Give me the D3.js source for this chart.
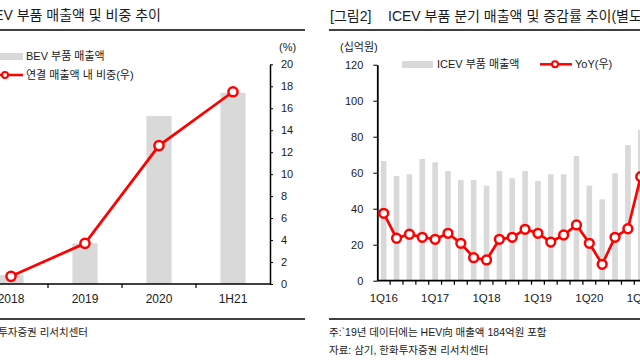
<!DOCTYPE html>
<html>
<head>
<meta charset="utf-8">
<script src="https://cdn.jsdelivr.net/npm/d3@7"></script>
<style>
  body { margin: 0; background: #fff; }
  svg { display: block; font-family: "Liberation Sans", "Noto Sans CJK KR", sans-serif; }
</style>
</head>
<body>
<div id="app"></div>
<script>
// left chart: BEV parts sales (십억원, left axis not shown) and share of consolidated sales (%)
const bevYears = ["2018", "2019", "2020", "1H21"];
const bevSales = [1.6, 7.4, 30.6, 34.8];
const bevShare = [0.7, 3.7, 12.6, 17.5];
const shareTicks = [0, 2, 4, 6, 8, 10, 12, 14, 16, 18, 20];

// right chart: ICEV parts quarterly sales (십억원) and YoY (%, right axis not shown)
const quarters = [
  "1Q16", "2Q16", "3Q16", "4Q16",
  "1Q17", "2Q17", "3Q17", "4Q17",
  "1Q18", "2Q18", "3Q18", "4Q18",
  "1Q19", "2Q19", "3Q19", "4Q19",
  "1Q20", "2Q20", "3Q20", "4Q20",
  "1Q21"
];
const icevSales = [
  66.5, 58.2, 59.1, 67.6,
  65.8, 60.9, 55.9, 55.9,
  52.8, 60.9, 56.9, 60.9,
  55.4, 59.1, 59.1, 69.3,
  52.8, 45.2, 59.7, 75.4,
  83.7
];
const icevYoy = [
  22.4, -0.7, 3.0, 0.2,
  -1.7, 3.9, -5.4, -18.7,
  -20.8, -1.7, 0.2, 7.6,
  3.9, -4.2, 2.3, 11.6,
  -5.4, -24.8, 0.2, 8.1,
  56.3
];
const salesTicks = [0, 20, 40, 60, 80, 100, 120];
const quarterLabels = ["1Q16", "1Q17", "1Q18", "1Q19", "1Q20", "1Q21"];

const RED = "#ff0000";
const GREY = "#d9d9d9";
const INK = "#1a1a1a";

const svg = d3.select("#app")
  .append("svg")
  .attr("width", 640)
  .attr("height", 360);

// ---------- left chart ----------
const left = svg.append("g");

left.append("text")
  .attr("x", 161).attr("y", 20)
  .attr("text-anchor", "end")
  .attr("font-size", 14)
  .attr("fill", INK)
  .text("[그림1] BEV 부품 매출액 및 비중 추이");

left.append("line")
  .attr("x1", 0).attr("x2", 305).attr("y1", 30).attr("y2", 30)
  .attr("stroke", "#000").attr("stroke-width", 1.3);

const xL = d3.scaleBand().domain(bevYears).range([-26, 270]);
const ySalesL = d3.scaleLinear().domain([0, 40]).range([284, 64.3]);
const yShare = d3.scaleLinear().domain([0, 20]).range([284, 64.3]);

left.selectAll(".bar")
  .data(bevYears)
  .enter()
  .append("rect")
  .attr("class", "bar")
  .attr("x", (d) => xL(d) + xL.bandwidth() * 0.33)
  .attr("width", xL.bandwidth() * 0.34)
  .attr("y", (d, i) => ySalesL(bevSales[i]))
  .attr("height", (d, i) => ySalesL(0) - ySalesL(bevSales[i]))
  .attr("fill", GREY);

// right axis (%)
const shareAxis = left.append("g")
  .attr("transform", "translate(270,0)")
  .call(d3.axisRight(yShare).tickValues(shareTicks).tickSize(3).tickPadding(8).tickSizeOuter(0));
shareAxis.select(".domain").attr("stroke", "#000").attr("stroke-width", 1.5);
shareAxis.selectAll("text").attr("font-size", 11).attr("fill", INK).style("font-family", "inherit");

// x axis line with ticks between categories
left.append("line")
  .attr("x1", 0).attr("x2", 270)
  .attr("y1", yShare(0)).attr("y2", yShare(0))
  .attr("stroke", "#000").attr("stroke-width", 1.5);
left.selectAll(".xtick")
  .data(d3.range(1, bevYears.length))
  .enter()
  .append("line")
  .attr("x1", (i) => xL.range()[0] + i * xL.step())
  .attr("x2", (i) => xL.range()[0] + i * xL.step())
  .attr("y1", yShare(0)).attr("y2", yShare(0) + 4)
  .attr("stroke", "#000").attr("stroke-width", 1.2);
left.selectAll(".xlab")
  .data(bevYears)
  .enter()
  .append("text")
  .attr("x", (d) => xL(d) + xL.bandwidth() / 2)
  .attr("y", 303)
  .attr("text-anchor", "middle")
  .attr("font-size", 12)
  .attr("fill", INK)
  .text((d) => d);

const shareLine = d3.line()
  .x((d, i) => xL(bevYears[i]) + xL.bandwidth() / 2)
  .y((d) => yShare(d));
left.append("path")
  .datum(bevShare)
  .attr("d", shareLine)
  .attr("fill", "none")
  .attr("stroke", RED)
  .attr("stroke-width", 2.7);
left.selectAll(".dot")
  .data(bevShare)
  .enter()
  .append("circle")
  .attr("cx", (d, i) => xL(bevYears[i]) + xL.bandwidth() / 2)
  .attr("cy", (d) => yShare(d))
  .attr("r", 4.6)
  .attr("fill", "#fff")
  .attr("stroke", RED)
  .attr("stroke-width", 2.5);

left.append("text")
  .attr("x", 279).attr("y", 51)
  .attr("font-size", 11).attr("fill", INK)
  .text("(%)");

// legend
left.append("rect")
  .attr("x", -10).attr("y", 53).attr("width", 33).attr("height", 7)
  .attr("fill", GREY);
left.append("text")
  .attr("x", 26).attr("y", 60)
  .attr("font-size", 11).attr("fill", INK)
  .text("BEV 부품 매출액");
left.append("line")
  .attr("x1", -10).attr("x2", 23).attr("y1", 75).attr("y2", 75)
  .attr("stroke", RED).attr("stroke-width", 2.5);
left.append("circle")
  .attr("cx", 5).attr("cy", 75).attr("r", 3)
  .attr("fill", "#fff").attr("stroke", RED).attr("stroke-width", 2);
left.append("text")
  .attr("x", 26).attr("y", 79)
  .attr("font-size", 11).attr("fill", INK)
  .text("연결 매출액  내 비중(우)");

left.append("line")
  .attr("x1", 0).attr("x2", 305).attr("y1", 319).attr("y2", 319)
  .attr("stroke", "#000").attr("stroke-width", 1.3);
left.append("text")
  .attr("x", 88).attr("y", 335.5)
  .attr("text-anchor", "end")
  .attr("font-size", 10.5).attr("fill", INK)
  .text("자료: 한화투자증권 리서치센터");

// ---------- right chart ----------
const right = svg.append("g");

right.append("text")
  .attr("x", 330).attr("y", 21)
  .attr("font-size", 14).attr("fill", INK)
  .text("[그림2]");
right.append("text")
  .attr("x", 388).attr("y", 21)
  .attr("font-size", 14).attr("fill", INK)
  .text("ICEV 부품 분기 매출액 및 증감률 추이(별도 기준)");

right.append("line")
  .attr("x1", 329).attr("x2", 640).attr("y1", 30).attr("y2", 30)
  .attr("stroke", "#000").attr("stroke-width", 1.3);

const xR = d3.scaleBand().domain(quarters).range([377.3, 377.3 + quarters.length * 12.85]);
const ySales = d3.scaleLinear().domain([0, 120]).range([280.7, 64.7]);
const yYoy = d3.scaleLinear().domain([-40, 160]).range([280.7, 64.7]);

right.selectAll(".bar")
  .data(quarters)
  .enter()
  .append("rect")
  .attr("class", "bar")
  .attr("x", (d) => xR(d) + xR.bandwidth() / 2 - 2.8)
  .attr("width", 5.6)
  .attr("y", (d, i) => ySales(icevSales[i]))
  .attr("height", (d, i) => ySales(0) - ySales(icevSales[i]))
  .attr("fill", GREY);

const salesAxis = right.append("g")
  .attr("transform", "translate(377.3,0)")
  .call(d3.axisLeft(ySales).tickValues(salesTicks).tickSize(4).tickPadding(10).tickSizeOuter(0));
salesAxis.select(".domain").attr("stroke", "#000").attr("stroke-width", 1.8);
salesAxis.selectAll("text").attr("font-size", 11).attr("fill", INK).style("font-family", "inherit");

right.append("line")
  .attr("x1", 377.3).attr("x2", 640)
  .attr("y1", ySales(0)).attr("y2", ySales(0))
  .attr("stroke", "#000").attr("stroke-width", 1.8);
right.selectAll(".xtick")
  .data(d3.range(1, quarters.length + 1))
  .enter()
  .append("line")
  .attr("x1", (i) => xR.range()[0] + i * xR.step())
  .attr("x2", (i) => xR.range()[0] + i * xR.step())
  .attr("y1", ySales(0)).attr("y2", ySales(0) + 4)
  .attr("stroke", "#000").attr("stroke-width", 1.2);
right.selectAll(".xlab")
  .data(quarterLabels)
  .enter()
  .append("text")
  .attr("x", (d) => xR(d) + xR.bandwidth() / 2)
  .attr("y", 301.5)
  .attr("text-anchor", "middle")
  .attr("font-size", 11.5)
  .attr("fill", INK)
  .text((d) => d);

const yoyLine = d3.line()
  .x((d, i) => xR(quarters[i]) + xR.bandwidth() / 2)
  .y((d) => yYoy(d));
right.append("path")
  .datum(icevYoy)
  .attr("d", yoyLine)
  .attr("fill", "none")
  .attr("stroke", RED)
  .attr("stroke-width", 2.7);
right.selectAll(".dot")
  .data(icevYoy)
  .enter()
  .append("circle")
  .attr("cx", (d, i) => xR(quarters[i]) + xR.bandwidth() / 2)
  .attr("cy", (d) => yYoy(d))
  .attr("r", 4.4)
  .attr("fill", "#fff")
  .attr("stroke", RED)
  .attr("stroke-width", 2.5);

right.append("text")
  .attr("x", 340).attr("y", 50.5)
  .attr("font-size", 11).attr("fill", INK)
  .text("(십억원)");

// legend
right.append("rect")
  .attr("x", 402).attr("y", 61).attr("width", 31).attr("height", 7)
  .attr("fill", GREY);
right.append("text")
  .attr("x", 437).attr("y", 68)
  .attr("font-size", 11).attr("fill", INK)
  .text("ICEV 부품 매출액");
right.append("line")
  .attr("x1", 540).attr("x2", 572).attr("y1", 64.3).attr("y2", 64.3)
  .attr("stroke", RED).attr("stroke-width", 2.5);
right.append("circle")
  .attr("cx", 555).attr("cy", 64.3).attr("r", 3)
  .attr("fill", "#fff").attr("stroke", RED).attr("stroke-width", 2);
right.append("text")
  .attr("x", 575).attr("y", 68)
  .attr("font-size", 11).attr("fill", INK)
  .text("YoY(우)");

right.append("line")
  .attr("x1", 329).attr("x2", 640).attr("y1", 319).attr("y2", 319)
  .attr("stroke", "#000").attr("stroke-width", 1.3);
right.append("text")
  .attr("x", 329).attr("y", 335.5)
  .attr("font-size", 10.5).attr("fill", INK)
  .text("주:`19년 데이터에는 HEV向 매출액 184억원 포함");
right.append("text")
  .attr("x", 329).attr("y", 354)
  .attr("font-size", 10.5).attr("fill", INK)
  .text("자료: 삼기, 한화투자증권 리서치센터");
</script>
</body>
</html>
